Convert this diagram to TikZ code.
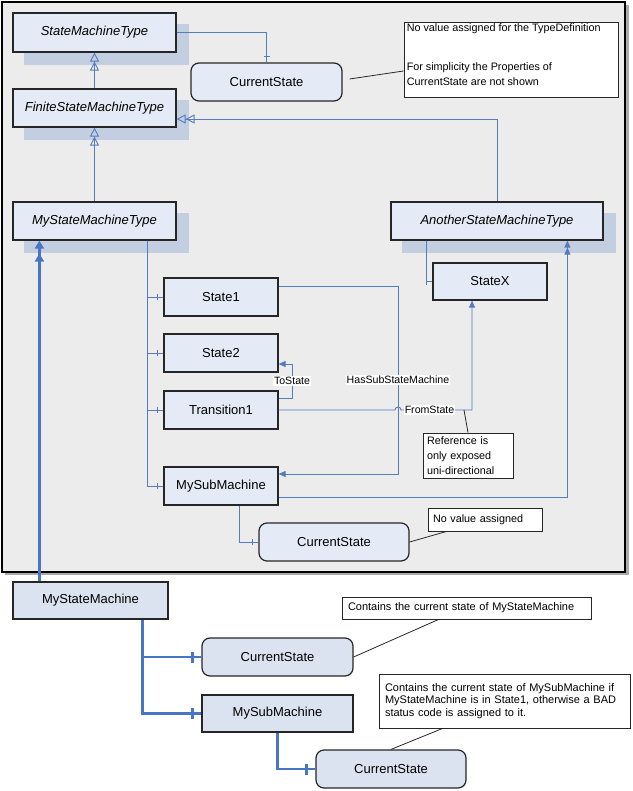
\documentclass[tikz,border=0pt]{standalone}
\usepackage{fontspec}
\setmainfont{Liberation Sans}
\usetikzlibrary{arrows.meta,calc,decorations.markings}

\definecolor{panelc}{RGB}{236,236,236}
\definecolor{panelshade}{RGB}{170,170,170}
\definecolor{boxc}{RGB}{229,235,246}
\definecolor{lowc}{RGB}{220,227,240}
\definecolor{shadec}{RGB}{196,206,225}
\definecolor{linkc}{RGB}{84,124,190}
\definecolor{heavyc}{RGB}{72,118,194}
\definecolor{edgec}{RGB}{38,38,38}

\pgfdeclarelayer{back}
\pgfdeclarelayer{shade}
\pgfsetlayers{back,shade,main}

\tikzset{
  plainbox/.style={draw=edgec, line width=1.2pt, fill=boxc, inner sep=0pt,
    font=\fontsize{13}{15}\selectfont},
  typebox/.style={plainbox, font=\fontsize{13}{15}\selectfont\itshape},
  valbox/.style={plainbox, rounded corners=8pt},
  lowbox/.style={plainbox, fill=lowc},
  lowval/.style={valbox, fill=lowc},
  notebox/.style={draw=edgec, line width=0.9pt, fill=white, inner ysep=0pt,
    align=left, font=\fontsize{10.8}{15}\selectfont},
  notetext/.style={inner sep=0pt, align=left, anchor=north west,
    font=\fontsize{10.8}{15}\selectfont},
  noteline/.style={draw=edgec, line width=0.8pt},
  lbl/.style={fill=white, inner sep=1pt, font=\fontsize{10.6}{12}\selectfont},
  linkline/.style={draw=linkc, line width=0.9pt},
  hastick/.style={postaction={decorate, decoration={markings,
    mark=at position -5.5pt with {\draw[linkc, line width=0.9pt] (0,-3pt) -- (0,3pt);}}}},
  inherit/.style={linkline,
    -{Triangle[open,length=9pt,width=9pt]Triangle[open,length=9pt,width=9pt]}},
  refarrow/.style={linkline, -{Triangle[length=7pt,width=6pt]}},
  refarrowtwo/.style={linkline,
    -{Triangle[length=7pt,width=6pt]Triangle[length=7pt,width=6pt]}},
  heavyline/.style={draw=heavyc, line width=2.6pt},
  heavyarrow/.style={heavyline, -{Triangle[length=8pt,width=9pt]}},
  bigtick/.style={postaction={decorate, decoration={markings,
    mark=at position -9pt with {\draw[heavyc, line width=2.6pt] (0,-5.5pt) -- (0,5.5pt);}}}},
}

\begin{document}
\begin{tikzpicture}[x=1pt,y=-1pt]
\useasboundingbox (0,0) rectangle (632,791);

% information model panel
\begin{pgfonlayer}{back}
  \fill[panelshade] (5,5) rectangle (628.5,575);
  \draw[fill=panelc, draw=black, line width=1.1pt] (2,2) rectangle (625,572);
\end{pgfonlayer}

% ----- type definitions
\node[typebox, minimum width=163pt, minimum height=39pt] (smt)  at (94.5,32.5) {StateMachineType};
\node[typebox, minimum width=163pt, minimum height=38pt] (fsmt) at (94.5,108) {FiniteStateMachineType};
\node[typebox, minimum width=163pt, minimum height=38pt] (msmt) at (94.5,221) {MyStateMachineType};
\node[typebox, minimum width=212pt, minimum height=38pt] (asmt) at (497,221) {AnotherStateMachineType};

\node[valbox, minimum width=151pt, minimum height=38pt] (cs1) at (266.5,82) {CurrentState};

\node[plainbox, minimum width=114pt, minimum height=37pt] (statex) at (490,281.5) {StateX};
\node[plainbox, minimum width=114pt, minimum height=38pt] (state1) at (221,297) {State1};
\node[plainbox, minimum width=114pt, minimum height=38pt] (state2) at (221,353) {State2};
\node[plainbox, minimum width=114pt, minimum height=38pt] (trans1) at (221,410) {Transition1};
\node[plainbox, minimum width=114pt, minimum height=38pt] (msub)   at (221,486) {MySubMachine};
\node[valbox, minimum width=150pt, minimum height=38pt] (cs2) at (334,542) {CurrentState};

% shadows of the type boxes
\begin{pgfonlayer}{shade}
  \foreach \n in {smt,fsmt,msmt,asmt}
    \fill[shadec] ([shift={(12,12)}]\n.north west) rectangle ([shift={(12,12)}]\n.south east);
\end{pgfonlayer}

% ----- notes inside the panel
\node[notebox, inner xsep=0pt, minimum width=214pt, minimum height=75pt] (note1) at (511,59.5) {};
\node[notetext] (note1t) at ([shift={(3,2.3)}]note1.north west)
  {No value assigned for the TypeDefinition\\[24pt]For simplicity the Properties of\\CurrentState are not shown};
\node[notebox, inner xsep=4pt, text width=82pt, minimum height=45pt] (note2) at (468,455.5)
  {Reference is\\only exposed\\uni-directional};
\node[notebox, inner xsep=5pt, text width=104pt, minimum height=23pt] (note3) at (485,519.5)
  {No value assigned};

% ----- instance part
\node[lowbox, minimum width=155pt, minimum height=37pt] (msm)   at (90.5,600.5) {MyStateMachine};
\node[lowval, minimum width=151pt, minimum height=38pt] (bcs1)  at (277.5,657) {CurrentState};
\node[lowbox, minimum width=151pt, minimum height=37pt] (bmsub) at (277.5,713.5) {MySubMachine};
\node[lowval, minimum width=150pt, minimum height=38pt] (bcs2)  at (391,769) {CurrentState};

\node[notebox, inner xsep=6pt, text width=237pt, minimum height=22pt,
      font=\fontsize{11}{12.5}\selectfont] (bnote1) at (466.5,608)
  {Contains the current state of MyStateMachine};
\node[notebox, inner xsep=6pt, text width=239pt, minimum height=54pt,
      font=\fontsize{11}{12.5}\selectfont] (bnote2) at (504.5,701)
  {Contains the current state of MySubMachine if\\MyStateMachine is in State1, otherwise a BAD\\status code is assigned to it.};

% ----- subtype relations
\draw[inherit] (fsmt.north) -- (smt.south);
\draw[inherit] (msmt.north) -- (fsmt.south);
\draw[inherit] (asmt.north) |- ([yshift=-11pt]fsmt.east);

% ----- components
\draw[linkline, hastick] (smt.east) -| (cs1.north);

\coordinate (trunk) at ($(msmt.south west)+(135,0)$);
\foreach \t in {state1,state2,trans1,msub}
  \draw[linkline, hastick] (trunk) |- (\t.west);

\draw[linkline, hastick] ($(asmt.south west)+(36,0)$) |- (statex.west);
\draw[linkline, hastick] ($(msub.south west)+(76,0)$) |- (cs2.west);

% ----- references
\coordinate (hsx) at (398,0);
\coordinate (hsTop) at ([yshift=11pt]state1.east);
\coordinate (hsBot) at ([yshift=12pt]msub.east);
\draw[refarrow] (hsTop) -- (hsTop -| hsx)
  -- node[lbl] {HasSubStateMachine} (hsBot -| hsx) -- (hsBot);

\coordinate (tsx) at (292,0);
\coordinate (tsA) at ([yshift=12pt]trans1.east);
\coordinate (tsB) at ([yshift=-11pt]state2.east);
\draw[refarrow] (tsA) -- (tsA -| tsx)
  -- node[lbl] {ToState} (tsB -| tsx) -- (tsB);

\coordinate (fsx) at ($(statex.south)+(-18,0)$);
\coordinate (fsref) at ($(trans1.east -| fsx)+(-8,0)$);
\draw[refarrow] (trans1.east) -- ($(trans1.east -| hsx)+(-3,0)$)
  arc[start angle=180, end angle=0, radius=3pt]
  -- node[lbl] {FromState} ($(trans1.east -| hsx)+(60,0)$)
  -- (trans1.east -| fsx) -- (fsx);

\coordinate (maTop) at ($(asmt.south west)+(177,0)$);
\draw[refarrowtwo] ([yshift=-11pt]msub.east) -| (maTop);

% ----- note connectors
\draw[noteline] ([shift={(7,-3)}]cs1.east) -- ([yshift=-11.5pt]note1.west);
\draw[noteline] (fsref) -- (note2.north);
\draw[noteline] (cs2.east) -- ($(note3.south west)+(19,0)$);

% ----- instance relations (double head: second tip set back from the box)
\coordinate (hvFrom) at ($(msm.north west)+(27,0)$);
\coordinate (hvTo) at ($(msmt.south west)+(27,0)$);
\draw[heavyarrow] (hvFrom) -- (hvTo);
\draw[heavyarrow, shorten >=13pt] (hvFrom) -- (hvTo);

\coordinate (btrunk) at ($(msm.south west)+(130,0)$);
\draw[heavyline, bigtick] (btrunk) |- (bcs1.west);
\draw[heavyline, bigtick] (btrunk) |- (bmsub.west);
\draw[heavyline, bigtick] ($(bmsub.south west)+(76,0)$) |- (bcs2.west);

\draw[noteline] (bcs1.east) -- ($(bnote1.south west)+(97,0)$);
\draw[noteline] (bcs2.north) -- ($(bnote2.south west)+(64,0)$);
\end{tikzpicture}
\end{document}
